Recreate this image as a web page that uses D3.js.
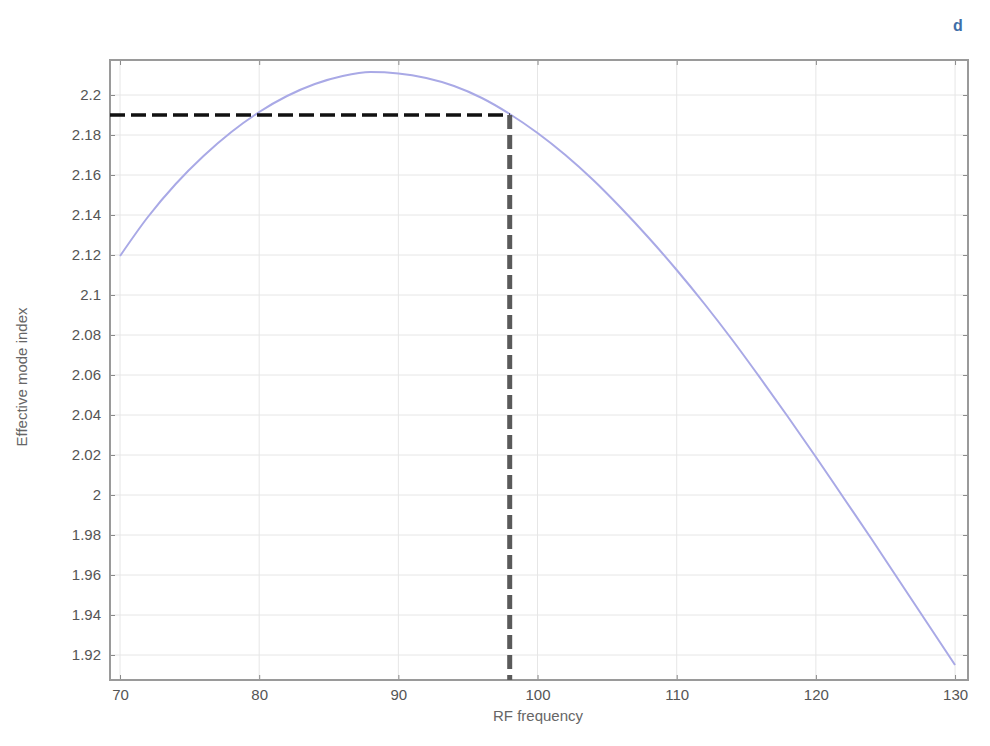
<!DOCTYPE html>
<html>
<head>
<meta charset="utf-8">
<script src="https://cdn.jsdelivr.net/npm/d3@7"></script>
<style>
  body { margin: 0; background: #fff; }
  svg { display: block; }
  text { font-family: "Liberation Sans", Arial, sans-serif; }
</style>
</head>
<body>
<svg id="chart" width="990" height="746"></svg>
<script>
// Data
const frequency = [70, 72, 74, 76, 78, 80, 82, 84, 86, 88, 90, 92, 94, 96, 98, 100, 102, 104, 106, 108, 110, 112, 114, 116, 118, 120, 122, 124, 126, 128, 130];
const modeIndex = [2.1195, 2.1390, 2.1555, 2.1695, 2.1815, 2.1915, 2.1995, 2.2055, 2.2095, 2.2115, 2.2108, 2.2085, 2.2045, 2.1985, 2.1905, 2.1810, 2.1700, 2.1575, 2.1435, 2.1285, 2.1125, 2.0955, 2.0775, 2.0585, 2.0390, 2.0190, 1.9985, 1.9780, 1.9570, 1.9360, 1.9150];
const xTicks = [70, 80, 90, 100, 110, 120, 130];
const yTicks = [1.92, 1.94, 1.96, 1.98, 2, 2.02, 2.04, 2.06, 2.08, 2.1, 2.12, 2.14, 2.16, 2.18, 2.2];
const markerFreq = [98];
const markerIndex = [2.19];
const xDomain = [69.28, 130.93];
const yDomain = [1.9075, 2.2175];
const xLabel = "RF frequency";
const yLabel = "Effective mode index";
const panelLabel = "d";

const svg = d3.select("#chart");
const m = { left: 110, right: 22, top: 60, bottom: 66 };
const W = 990, H = 746;
const iw = W - m.left - m.right, ih = H - m.top - m.bottom;

const x = d3.scaleLinear().domain(xDomain).range([m.left, m.left + iw]);
const y = d3.scaleLinear().domain(yDomain).range([m.top + ih, m.top]);

const g = svg.append("g");

// grid lines
g.append("g").selectAll("line").data(xTicks).join("line")
  .attr("x1", d => x(d)).attr("x2", d => x(d))
  .attr("y1", m.top).attr("y2", m.top + ih)
  .attr("stroke", "#e6e6e6").attr("stroke-width", 1);
g.append("g").selectAll("line").data(yTicks).join("line")
  .attr("y1", d => y(d)).attr("y2", d => y(d))
  .attr("x1", m.left).attr("x2", m.left + iw)
  .attr("stroke", "#e6e6e6").attr("stroke-width", 1);

// axes (ticks pointing inward)
const fmtY = d => String(+d.toFixed(2));
const axL = g.append("g").attr("transform", `translate(${m.left},0)`)
  .call(d3.axisLeft(y).tickValues(yTicks).tickFormat(fmtY).tickSizeInner(-5).tickSizeOuter(0).tickPadding(9));
const axR = g.append("g").attr("transform", `translate(${m.left + iw},0)`)
  .call(d3.axisRight(y).tickValues(yTicks).tickFormat("").tickSizeInner(-5).tickSizeOuter(0));
const axB = g.append("g").attr("transform", `translate(0,${m.top + ih})`)
  .call(d3.axisBottom(x).tickValues(xTicks).tickFormat(d3.format("d")).tickSizeInner(-5).tickSizeOuter(0).tickPadding(9));
const axT = g.append("g").attr("transform", `translate(0,${m.top})`)
  .call(d3.axisTop(x).tickValues(xTicks).tickFormat("").tickSizeInner(-5).tickSizeOuter(0));

[axL, axR, axB, axT].forEach(a => {
  a.select(".domain").remove();
  a.selectAll(".tick line").attr("stroke", "#8a8a8a").attr("stroke-width", 1);
  a.selectAll(".tick text").attr("fill", "#555").style("font-size", "15px")
    .style("font-family", '"Liberation Sans", Arial, sans-serif');
});

// frame
g.append("rect").attr("x", m.left).attr("y", m.top).attr("width", iw).attr("height", ih)
  .attr("fill", "none").attr("stroke", "#9a9a9a").attr("stroke-width", 2);

// curve
const line = d3.line().x((d, i) => x(frequency[i])).y(d => y(d)).curve(d3.curveMonotoneX);
g.append("path").datum(modeIndex).attr("d", line)
  .attr("fill", "none").attr("stroke", "#a9a9e6").attr("stroke-width", 2);

// dashed marker lines
g.append("line")
  .attr("x1", x(xDomain[0])).attr("x2", x(markerFreq[0]))
  .attr("y1", y(markerIndex[0])).attr("y2", y(markerIndex[0]))
  .attr("stroke", "#111").attr("stroke-width", 3.5).attr("stroke-dasharray", "15,6");
g.append("line")
  .attr("x1", x(markerFreq[0])).attr("x2", x(markerFreq[0]))
  .attr("y1", y(markerIndex[0])).attr("y2", y(yDomain[0]))
  .attr("stroke", "#5a5a5a").attr("stroke-width", 5).attr("stroke-dasharray", "14,6");

// labels
svg.append("text").attr("x", 538).attr("y", 721)
  .attr("text-anchor", "middle").attr("fill", "#666").style("font-size", "15px").text(xLabel);
svg.append("text").attr("transform", `translate(27,${m.top + ih / 2 + 7}) rotate(-90)`)
  .attr("text-anchor", "middle").attr("fill", "#666").style("font-size", "15px").text(yLabel);
svg.append("text").attr("x", 958).attr("y", 31).attr("text-anchor", "middle")
  .attr("fill", "#3f6fa8").style("font-size", "16px").style("font-weight", "bold").text(panelLabel);
</script>
</body>
</html>
